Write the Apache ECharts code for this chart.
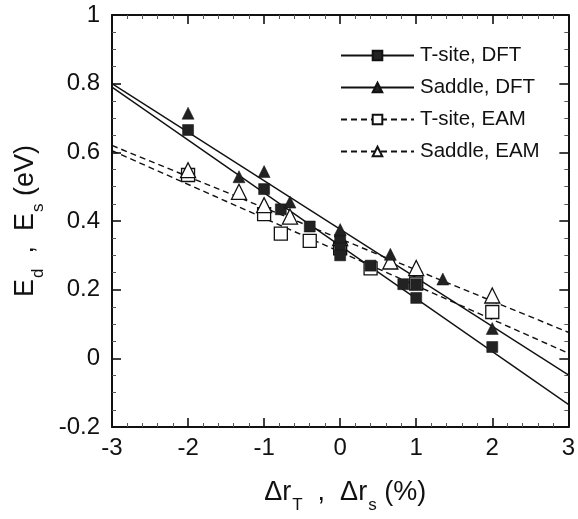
<!DOCTYPE html>
<html>
<head>
<meta charset="utf-8">
<script src="https://cdn.jsdelivr.net/npm/echarts@6/dist/echarts.min.js"></script>
<style>
html,body{margin:0;padding:0;background:#fff;}
#main{width:578px;height:519px;}
</style>
</head>
<body>
<div id="main"></div>
<script>
// Axis ranges / ticks
const xTicks = [-3, -2, -1, 0, 1, 2, 3];
const yTicks = [-0.2, 0, 0.2, 0.4, 0.6, 0.8, 1];

// Series names
const seriesNames = ['T-site, DFT', 'Saddle, DFT', 'T-site, EAM', 'Saddle, EAM'];

// Data points [x, y]
const tsiteDFT = [[-2, 0.665], [-1, 0.493], [-0.78, 0.434], [-0.4, 0.384], [0, 0.345], [0, 0.32], [0, 0.30],
                  [0.4, 0.27], [0.83, 0.216], [1.0, 0.216], [1.0, 0.176], [2, 0.033]];
const saddleDFT = [[-2, 0.714], [-1.33, 0.529], [-1.0, 0.544], [-0.66, 0.455], [0, 0.375], [0.66, 0.303],
                   [1.35, 0.231], [2, 0.087]];
const tsiteEAM = [[-2, 0.534], [-1.0, 0.42], [-0.78, 0.363], [-0.4, 0.342], [0, 0.32], [0.4, 0.262],
                  [1.0, 0.218], [2, 0.135]];
const saddleEAM = [[-2, 0.548], [-1.33, 0.485], [-1.0, 0.446], [-0.66, 0.413], [0, 0.35], [0.66, 0.282],
                   [1.0, 0.263], [2, 0.183]];

// Linear fit lines (end points)
const fitTsiteDFT = [[-3, 0.79], [3, -0.134]];
const fitSaddleDFT = [[-3, 0.80], [3, -0.048]];
const fitTsiteEAM = [[-3, 0.605], [3, 0.015]];
const fitSaddleEAM = [[-3, 0.62], [3, 0.076]];

const FONT = 'Liberation Sans';
const chart = echarts.init(document.getElementById('main'), null, {renderer: 'canvas'});

function fitSeries(name, data, dashed, symbol, filled, size) {
  return {
    type: 'line', name: name, data: data, xAxisIndex: 0, yAxisIndex: 0,
    showSymbol: false, symbol: symbol, symbolSize: size,
    lineStyle: {color: '#111', width: 1.4, type: dashed ? [6, 4] : 'solid'},
    itemStyle: {color: filled ? '#222' : '#fff', borderColor: '#111', borderWidth: filled ? 0.5 : 1.3},
    silent: true, animation: false, z: 2
  };
}
function markSeries(name, data, symbol, filled, size, z) {
  return {
    type: 'scatter', name: name, data: data, xAxisIndex: 0, yAxisIndex: 0,
    symbol: symbol, symbolSize: size,
    itemStyle: {color: filled ? '#222' : '#fff', borderColor: '#111', borderWidth: filled ? 0.5 : 1.3, opacity: 1},
    animation: false, z: z
  };
}

const axisCommon = {
  axisLine: {show: true, onZero: false, lineStyle: {color: '#111', width: 2}},
  axisTick: {show: true, inside: true, length: 9, lineStyle: {color: '#111', width: 1.6}},
  minorTick: {show: true, length: 4, lineStyle: {color: '#555', width: 1}},
  splitLine: {show: false},
  minorSplitLine: {show: false}
};

const titleRich = {
  n: {fontFamily: FONT, fontSize: 27, color: '#111', lineHeight: 32, verticalAlign: 'middle'},
  s: {fontFamily: FONT, fontSize: 17, color: '#111', lineHeight: 32, verticalAlign: 'bottom', padding: [0, 0, -5, 1]}
};

const option = {
  backgroundColor: '#fff',
  animation: false,
  textStyle: {fontFamily: FONT},
  grid: {left: 112, right: 7, top: 15, bottom: 83, containLabel: false},
  legend: {
    orient: 'vertical', left: 335, top: 40,
    itemWidth: 73, itemHeight: 12, itemGap: 11,
    textStyle: {fontFamily: FONT, fontSize: 20.5, color: '#111', padding: [0, 0, 0, 1]},
    data: seriesNames
  },
  xAxis: [
    Object.assign({}, axisCommon, {
      type: 'value', min: xTicks[0], max: xTicks[xTicks.length - 1], interval: 1,
      minorTick: Object.assign({}, axisCommon.minorTick, {splitNumber: 5}),
      axisLabel: {show: true, fontFamily: FONT, fontSize: 24, color: '#111', margin: 9},
      name: '{n|Δr}{s|T}{n|  ,  Δr}{s|s}{n| (%)}', nameLocation: 'middle', nameGap: 50,
      nameTextStyle: {fontFamily: FONT, color: '#111', rich: titleRich, padding: [0, 0, 0, 10]}
    }),
    Object.assign({}, axisCommon, {
      type: 'value', position: 'top', min: xTicks[0], max: xTicks[xTicks.length - 1], interval: 1,
      minorTick: Object.assign({}, axisCommon.minorTick, {splitNumber: 5}),
      axisLabel: {show: false}
    })
  ],
  yAxis: [
    Object.assign({}, axisCommon, {
      type: 'value', min: yTicks[0], max: yTicks[yTicks.length - 1], interval: 0.2,
      minorTick: Object.assign({}, axisCommon.minorTick, {splitNumber: 4}),
      axisLabel: {show: true, fontFamily: FONT, fontSize: 24, color: '#111', margin: 12,
        formatter: function (v) { return String(Math.round(v * 10) / 10); }},
      name: '{n|E}{s|d}{n|  ,  E}{s|s}{n| (eV)}', nameLocation: 'middle', nameGap: 70, nameRotate: 90,
      nameTextStyle: {fontFamily: FONT, color: '#111', rich: titleRich}
    }),
    Object.assign({}, axisCommon, {
      type: 'value', position: 'right', min: yTicks[0], max: yTicks[yTicks.length - 1], interval: 0.2,
      minorTick: Object.assign({}, axisCommon.minorTick, {splitNumber: 4}),
      axisLabel: {show: false}
    })
  ],
  series: [
    fitSeries(seriesNames[0], fitTsiteDFT, false, 'rect', true, 10),
    fitSeries(seriesNames[1], fitSaddleDFT, false, 'triangle', true, 11),
    fitSeries(seriesNames[2], fitTsiteEAM, true, 'rect', false, 12),
    fitSeries(seriesNames[3], fitSaddleEAM, true, 'triangle', false, 13),
    markSeries(seriesNames[2], tsiteEAM, 'rect', false, 13, 3),
    markSeries(seriesNames[3], saddleEAM, 'triangle', false, 15, 3),
    markSeries(seriesNames[0], tsiteDFT, 'rect', true, 11, 4),
    markSeries(seriesNames[1], saddleDFT, 'triangle', true, 12, 4)
  ]
};
chart.setOption(option);
</script>
</body>
</html>
